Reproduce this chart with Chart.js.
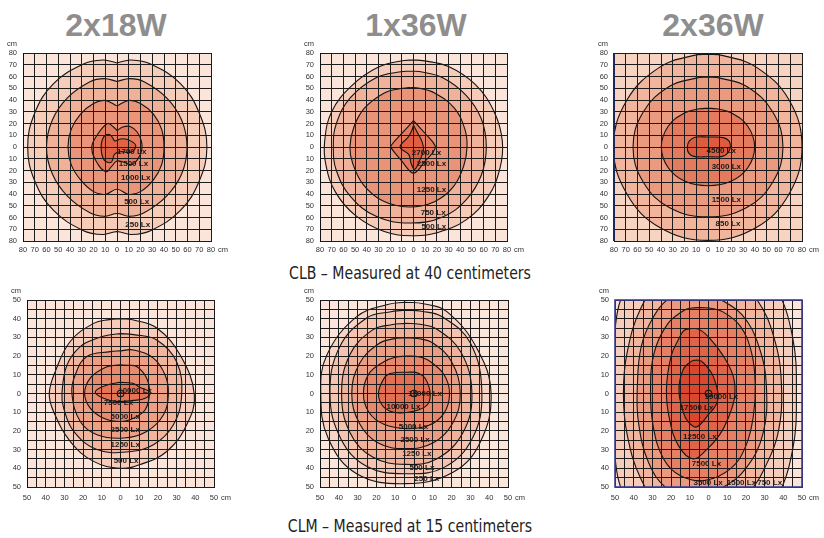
<!DOCTYPE html>
<html>
<head>
<meta charset="utf-8">
<script src="https://cdn.jsdelivr.net/npm/chart.js@4.4.1/dist/chart.umd.min.js"></script>
<style>
  body { margin:0; width:824px; height:538px; background:#fff; position:relative; overflow:hidden; }
  .title { position:absolute; width:200px; text-align:center; font:bold 32px "Liberation Sans", Arial, sans-serif; line-height:32px; color:#8e8e8e; }
  .caption { position:absolute; left:0; width:820px; text-align:center; font:17px "Liberation Sans Narrow", "DejaVu Sans Condensed", sans-serif; line-height:18px; color:#222; transform:scaleX(0.92); transform-origin:410px 0; }
</style>
</head>
<body>
<script>
// tick values (cm)
const clbTicks = [-80, -70, -60, -50, -40, -30, -20, -10, 0, 10, 20, 30, 40, 50, 60, 70, 80];
const clmTicks = [-50, -45, -40, -35, -30, -25, -20, -15, -10, -5, 0, 5, 10, 15, 20, 25, 30, 35, 40, 45, 50];

const titles = ['2x18W', '1x36W', '2x36W'];
const captions = ['CLB – Measured at 40 centimeters', 'CLM – Measured at 15 centimeters'];

// ---- CLB 2x18W isolux lines [x, y] in cm
const clb2x18_1700 = [[-2,5],[5,7],[12,5],[16,1],[12,-4.5],[3,-4],[-2,-6],[-5,-13],[-11,-11],[-13.5,0],[-11,9],[-6,10.5],[-2,5]];
const clb2x18_1500 = [[0,14],[5,17],[11,17.5],[17,13],[21,4],[20,-6],[13,-15],[6,-13],[0,-12],[-5,-17],[-9,-21],[-16,-15],[-21.5,-1],[-17,10],[-8,20],[-3,17],[0,14]];
const clb2x18_1000 = [[0,35],[10,39.6],[20,37],[31,28],[38,15],[40,0],[38,-15],[31,-28],[20,-38],[10,-40.4],[0,-35.9],[-10,-40.4],[-20,-38],[-31,-28],[-39,-15],[-41.7,0],[-39,15],[-31,28],[-20,37],[-10,39.6],[0,35]];
const clb2x18_500 = [[0,55.8],[11,58.2],[23,55.5],[42,42],[55,23],[59.6,0],[55,-23],[42,-42],[23,-56],[11,-59],[0,-56.6],[-11,-59],[-23,-56],[-42,-42],[-55,-23],[-60,0],[-55,23],[-42,42],[-23,55.5],[-11,58.2],[0,55.8]];
const clb2x18_250 = [[0,71.5],[12,74],[29,70.5],[54,54],[70,29],[76.5,0],[70,-29],[54,-54],[29,-71],[12,-74.5],[0,-72],[-12,-74.5],[-29,-71],[-54,-54],[-70,-29],[-76,0],[-70,29],[-54,54],[-29,70.5],[-12,74],[0,71.5]];
const clb2x18Levels = ['1700 Lx', '1500 Lx', '1000 Lx', '500 Lx', '250 Lx'];
const clb2x18LabelAt = [[12.5,-4],[14,-14],[16,-26],[16.7,-46.5],[17.6,-65.8]];

// ---- CLB 1x36W
const clb1x36_2700 = [[0,18.5],[4,11],[7.5,4],[8.5,-3],[5,-12],[1,-19],[-2,-14],[-4,-6.5],[-11.5,0],[-4.5,8.5],[-1.5,14],[0,18.5]];
const clb1x36_2500 = [[0,22.5],[10,11.5],[18.5,1],[17,-4],[10,-12],[2,-21.5],[-2,-21.5],[-10,-12],[-19,-1],[-19,1.5],[-10,11.5],[0,22.5]];
const clb1x36_1250 = [[-4,50.5],[4,50.2],[18,46],[35,33],[44,15],[45.8,0],[43,-16],[34,-34],[18,-46.5],[-4,-51],[-26,-46],[-43,-32],[-52,-14],[-54.4,0],[-51,17],[-42,33],[-25,46],[-12,49.6],[-4,50.5]];
const clb1x36_750 = [[-3,64.5],[5,64.2],[25,59],[45,44],[58,24],[62.3,0],[58,-24],[45,-45],[25,-59.5],[-3,-64.7],[-32,-59],[-54,-42],[-66,-20],[-68.6,0],[-66,20],[-54,42],[-32,59],[-11,64],[-3,64.5]];
const clb1x36_500 = [[0,74],[8,73.5],[30,68.5],[53,53],[69,30],[76,5],[74,-18],[64,-42],[45,-62],[20,-73],[0,-75.5],[-25,-72],[-50,-58],[-67,-38],[-75,-15],[-76,5],[-70,30],[-53,52],[-30,68],[-8,73.6],[0,74]];
const clb1x36Levels = ['2700 Lx', '2500 Lx', '1250 Lx', '750 Lx', '500 Lx'];
const clb1x36LabelAt = [[11.1,-5.1],[15.4,-14.5],[15.4,-36.3],[16.8,-56.2],[17.4,-67.5]];

// ---- CLB 2x36W
const clb2x36_4500 = [[0,8.5],[13,8],[18,5],[19,0],[17,-5],[12,-8],[0,-8.3],[-12,-8],[-16.5,-5],[-17.6,0],[-16,5],[-11,8.3],[0,8.5]];
const clb2x36_3000 = [[0,33],[7,32.5],[20,29],[34,17.5],[39.7,0],[34,-17.5],[20,-29],[0,-33],[-20,-29],[-34,-17.5],[-39.7,0],[-34,17.5],[-20,29],[-7,32.5],[0,33]];
const clb2x36_1500 = [[0,59.5],[10,58.6],[33,51.5],[55,30],[63.8,0],[55,-30],[33,-51.5],[0,-59.5],[-33,-51.5],[-55,-30],[-63.8,0],[-55,30],[-33,51.5],[-10,58.6],[0,59.5]];
const clb2x36_850 = [[0,79],[12,78],[41,68],[69,40],[80,0],[69,-40],[41,-68.5],[0,-79.5],[-41,-68.5],[-69,-40],[-80.5,0],[-69,40],[-41,68],[-12,78],[0,79]];
const clb2x36Levels = ['4500 Lx', '3000 Lx', '1500 Lx', '850 Lx'];
const clb2x36LabelAt = [[11.3,-3.1],[15.6,-16.8],[15.6,-45.3],[17,-65.2]];

// ---- CLM 2x18W
const clm2x18_peak = [[0,0]];
const clm2x18_7500 = [[-0.2,6],[6.5,5.5],[10,3.5],[15.9,0.5],[13.2,-2.5],[6.9,-3.7],[-1.9,-4.3],[-9.1,-2.6],[-13.5,1],[-6.4,4.8],[-0.2,6]];
const clm2x18_5000 = [[0,15.3],[4,15.1],[8.7,14.4],[14,8.2],[15.5,0.2],[13.2,-8.7],[6.9,-13.2],[0,-15],[-9,-13.2],[-16.2,-7.8],[-19.2,0],[-16.2,8.2],[-9,13.5],[-4,15],[0,15.3]];
const clm2x18_2500 = [[0,22.8],[6.9,23.3],[17.6,18.9],[23.8,10],[25.6,0.2],[23,-11.4],[14,-20.3],[1.6,-23.8],[-12.6,-22],[-21.5,-15],[-26,0],[-24.2,10],[-18,19.8],[-5.5,22.4],[0,22.8]];
const clm2x18_1250 = [[0,32],[7,31.5],[19.4,28.6],[30,17],[32.7,-0.7],[28.3,-16.7],[17.6,-27.4],[3.4,-31.3],[-12.6,-30],[-25,-20.3],[-30.4,-7.8],[-31.3,0],[-28.6,15.3],[-21.5,25.1],[-12.6,29.5],[-6,31.3],[0,32]];
const clm2x18_500 = [[0,40],[7,39.3],[19.4,35],[31.9,20.6],[39.5,-0.7],[35.4,-16.7],[24.7,-31],[10.5,-38],[0,-40],[-14.4,-36.3],[-26.9,-25.6],[-35.8,-9.6],[-38.1,0],[-34.9,11.7],[-26.9,27.8],[-14.4,37.5],[-6,39.5],[0,40]];
const clm2x18Levels = ['10000 Lx', '7500 Lx', '5000 Lx', '2500 Lx', '1250 Lx', '500 Lx'];
const clm2x18LabelAt = [[7.8,1.4],[-1.1,-4.8],[2.5,-12.3],[2.5,-19.4],[2.5,-27.4],[3,-35.8]];

// ---- CLM 1x36W
const clm1x36_peak = [[0,0]];
const clm1x36_10000 = [[-2,11.5],[2,11],[6,8],[8.6,0],[6.9,-6.2],[-0.3,-9.5],[-9.1,-10.3],[-16.2,-7.1],[-18.9,0],[-16,8],[-12.7,10.7],[-2,11.5]];
const clm1x36_5000 = [[-4,20],[2,19.7],[8,17.5],[16,10],[18.9,0],[16,-10.5],[8,-17],[-4,-18.8],[-16,-16.5],[-24,-10],[-26.9,0],[-24,10.5],[-16,17],[-10,19.4],[-4,20]];
const clm1x36_2500 = [[-4.5,29.8],[2,29.4],[10,27],[20,17],[24.6,0],[20.5,-16],[10,-26.5],[-4.5,-29.5],[-19,-26.5],[-29,-16],[-33.1,0],[-29,16],[-19,26.5],[-11,29.2],[-4.5,29.8]];
const clm1x36_1250 = [[-4.5,37.5],[3,37],[12,34.5],[25,22],[30.8,0],[26,-21],[12,-35],[-4.5,-37.9],[-22,-34],[-34,-21],[-38.5,0],[-34,21],[-22,34],[-12,36.8],[-4.5,37.5]];
const clm1x36_500 = [[-4.5,44.6],[4,44],[15,41],[30,27],[36.1,0],[31,-24],[16,-39.5],[-4.5,-42.9],[-25,-39],[-39,-24],[-44.7,0],[-39.5,25],[-25,40.5],[-13,43.6],[-4.5,44.6]];
const clm1x36_250 = [[-4.7,48.8],[5,48],[17.5,43.8],[33.5,24.1],[41,0],[35.3,-25.9],[21,-42],[-4.7,-48.2],[-30.5,-42.9],[-45.6,-24.1],[-49.6,0],[-46.4,20.5],[-30.5,41.1],[-14,47.6],[-4.7,48.8]];
const clm1x36Levels = ['15000 Lx', '10000 Lx', '5000 Lx', '2500 Lx', '1250 Lx', '500 Lx', '250 Lx'];
const clm1x36LabelAt = [[5.9,0],[-5.6,-7.1],[-0.3,-17.9],[0.6,-24.6],[1.5,-32.1],[4.2,-39.6],[6.8,-45.5]];

// ---- CLM 2x36W
const clm2x36_peak = [[0,0]];
const clm2x36_17500 = [[-6.4,17.9],[-4,17.4],[-1,14.5],[2.5,9.3],[5.2,-1.4],[3.5,-7],[0.7,-10.4],[-6.4,-17.9],[-11,-15],[-13.5,-10],[-15.8,2],[-13.5,12.9],[-9,17.3],[-6.4,17.9]];
const clm2x36_12500 = [[-9,34.8],[-5,34.3],[0.7,29.5],[8,20],[13.2,9.3],[14,-1.4],[11,-12],[6,-22],[-1,-30],[-8.2,-35],[-16,-28],[-20.8,-14],[-22.5,2],[-20,20],[-16,29],[-13,33.8],[-9,34.8]];
const clm2x36_7500 = [[-4,46],[2,45.5],[8,43.5],[17,36],[23,22],[25,5],[24,-12],[20,-28],[12,-40],[-2,-46.5],[-15,-44],[-24,-35],[-29.5,-18],[-31,2],[-29,22],[-22,37],[-13,44.5],[-9,45.7],[-4,46]];
const clm2x36_3500 = [[-8,57],[5,51],[18,42],[27,25],[31,3],[29,-22],[20,-40],[8,-50],[-8,-56],[-22,-51],[-32,-37],[-37.5,-15],[-38,5],[-36,25],[-30,40],[-21,51],[-8,57]];
const clm2x36_1500 = [[-6,68],[12,63],[26,50],[35,30],[39,5],[37,-22],[29,-42],[24,-50],[12,-62],[-6,-68],[-24,-62],[-36,-46],[-43.5,-22],[-45.5,0],[-43.5,22],[-36,46],[-24,62],[-6,68]];
const clm2x36_750 = [[-4,80],[22,74],[36,57],[45,30],[47,0],[45,-30],[36,-57],[22,-74],[-4,-80],[-30,-74],[-45,-55],[-50.5,-30],[-52,0],[-50.5,30],[-45,55],[-30,74],[-4,80]];
const clm2x36Levels = ['19000 Lx', '17500 Lx', '12500 Lx', '7500 Lx', '3500 Lx', '1500 Lx', '750 Lx'];
const clm2x36LabelAt = [[6.9,-1.8],[-6.4,-7.7],[-4.6,-22.9],[-1.1,-37.5],[-0.2,-47.9],[17.6,-47.9],[32.7,-47.9]];

// ---- fills, inner to outer, then background
const fillsA = ['#df6446', '#e57c60', '#ea947a', '#f0b199', '#f6cdb9'];
const fillsB = ['#df5f40', '#e47a5e', '#e99479', '#f0b29a', '#f6cbb8'];
const fillsC = ['#de5c3d', '#e47a5e', '#ea9a7f', '#f0b59c'];
const fillsD = ['#e37456', '#e78a6e', '#ec9f85', '#f1b59e', '#f6cbb9'];
const fillsE = ['#e26f52', '#e7886c', '#eb9d83', '#efb19a', '#f4c4b0', '#f7d4c5'];
const fillsF = ['#d9472f', '#e0644a', '#e67f64', '#eb9a80', '#f1b59d', '#f6cdbb'];

const AXW = 26, TOPPAD = 16, AXH = 18, RPAD = 30;

titles.forEach((t, i) => {
  const d = document.createElement('div');
  d.className = 'title';
  d.textContent = t;
  d.style.left = ([116, 416, 713][i] - 100) + 'px';
  d.style.top = '9px';
  document.body.appendChild(d);
});
captions.forEach((t, i) => {
  const d = document.createElement('div');
  d.className = 'caption';
  d.textContent = t;
  d.style.top = [264, 517][i] + 'px';
  document.body.appendChild(d);
});

function axis(ticks, lim, pad, fit) {
  return {
    type: 'linear', min: -lim, max: lim,
    afterBuildTicks: s => { s.ticks = ticks.map(v => ({ value: v })); },
    afterFit: fit,
    ticks: {
      autoSkip: false, maxRotation: 0, padding: pad, color: '#333',
      font: { family: 'Liberation Sans', size: 7.5 },
      callback: v => (v % 10 === 0 ? String(Math.abs(v)) : '')
    },
    grid: { color: '#1c1c1c', lineWidth: 1, drawTicks: false, z: 1 },
    border: { color: '#111', width: 1, z: 1 }
  };
}

function isoPanel(p) {
  const cv = document.createElement('canvas');
  cv.width = AXW + p.w + RPAD;
  cv.height = TOPPAD + p.h + AXH;
  cv.style.position = 'absolute';
  cv.style.left = (p.l - AXW) + 'px';
  cv.style.top = (p.t - TOPPAD) + 'px';
  document.body.appendChild(cv);

  const datasets = [];
  if (p.peak) {
    datasets.push({
      data: p.peak.map(([x, y]) => ({ x, y })), showLine: false,
      pointRadius: 3.3, pointBorderWidth: 1.1, pointBorderColor: '#111',
      pointBackgroundColor: 'rgba(0,0,0,0)'
    });
  }
  p.lines.forEach((c, i) => {
    datasets.push({
      data: c.map(([x, y]) => ({ x, y })), fill: 'shape',
      backgroundColor: p.fills[i], borderColor: '#141414', borderWidth: 1.1,
      pointRadius: 0, tension: 0.4
    });
  });

  const decor = {
    id: 'isoDecor',
    beforeDatasetsDraw(chart) {
      const a = chart.chartArea, ctx = chart.ctx;
      ctx.save();
      ctx.fillStyle = p.bg;
      ctx.fillRect(a.left, a.top, a.right - a.left, a.bottom - a.top);
      ctx.restore();
    },
    afterDraw(chart) {
      const a = chart.chartArea, ctx = chart.ctx, sx = chart.scales.x, sy = chart.scales.y;
      ctx.save();
      if (p.frame === 'blue') {
        ctx.strokeStyle = '#3b3f98';
        ctx.lineWidth = 1.6;
        ctx.strokeRect(a.left, a.top, a.right - a.left, a.bottom - a.top);
      } else if (p.frame === 'navyLeft') {
        ctx.strokeStyle = '#1f2a55';
        ctx.lineWidth = 2;
        ctx.beginPath(); ctx.moveTo(a.left, a.top); ctx.lineTo(a.left, a.bottom); ctx.stroke();
      }
      ctx.fillStyle = '#1a1a1a';
      ctx.font = 'bold 8px "Liberation Sans"';
      ctx.textAlign = 'center';
      ctx.textBaseline = 'middle';
      p.levels.forEach((t, i) => {
        const [x, y] = p.labelAt[i];
        ctx.fillText(t, sx.getPixelForValue(x), sy.getPixelForValue(y));
      });
      ctx.fillStyle = '#333';
      ctx.font = '7.5px "Liberation Sans"';
      ctx.fillText('cm', a.left - 11, a.top - 9);
      ctx.textAlign = 'left';
      ctx.fillText('cm', a.right + 7, a.bottom + p.cmDy);
      ctx.restore();
    }
  };

  new Chart(cv, {
    type: 'line',
    data: { datasets },
    options: {
      responsive: false, animation: false,
      layout: { padding: { left: 0, top: TOPPAD, right: RPAD, bottom: 0 } },
      elements: { line: { capBezierPoints: false } },
      plugins: { legend: { display: false }, tooltip: { enabled: false } },
      scales: {
        x: axis(p.ticks, p.lim, p.xpad, s => { s.height = AXH; }),
        y: axis(p.ticks, p.lim, 6, s => { s.width = AXW; })
      }
    },
    plugins: [decor]
  });
}

isoPanel({ l: 23, t: 53, w: 188, h: 188, ticks: clbTicks, lim: 80, xpad: 4, cmDy: 8.5,
  lines: [clb2x18_1700, clb2x18_1500, clb2x18_1000, clb2x18_500, clb2x18_250],
  fills: fillsA, bg: '#fbe5da', levels: clb2x18Levels, labelAt: clb2x18LabelAt });
isoPanel({ l: 320, t: 53, w: 187, h: 188, ticks: clbTicks, lim: 80, xpad: 4, cmDy: 8.5,
  lines: [clb1x36_2700, clb1x36_2500, clb1x36_1250, clb1x36_750, clb1x36_500],
  fills: fillsB, bg: '#fbe4d9', levels: clb1x36Levels, labelAt: clb1x36LabelAt });
isoPanel({ l: 614, t: 53, w: 188, h: 188, ticks: clbTicks, lim: 80, xpad: 4, cmDy: 8.5,
  lines: [clb2x36_4500, clb2x36_3000, clb2x36_1500, clb2x36_850],
  fills: fillsC, bg: '#f7d3c2', levels: clb2x36Levels, labelAt: clb2x36LabelAt, frame: 'navyLeft' });
isoPanel({ l: 27, t: 300, w: 187, h: 187, ticks: clmTicks, lim: 50, xpad: 6, cmDy: 10.5, peak: clm2x18_peak,
  lines: [clm2x18_7500, clm2x18_5000, clm2x18_2500, clm2x18_1250, clm2x18_500],
  fills: fillsD, bg: '#fbe4d9', levels: clm2x18Levels, labelAt: clm2x18LabelAt });
isoPanel({ l: 320, t: 300, w: 188, h: 187, ticks: clmTicks, lim: 50, xpad: 6, cmDy: 10.5, peak: clm1x36_peak,
  lines: [clm1x36_10000, clm1x36_5000, clm1x36_2500, clm1x36_1250, clm1x36_500, clm1x36_250],
  fills: fillsE, bg: '#fbe6dc', levels: clm1x36Levels, labelAt: clm1x36LabelAt });
isoPanel({ l: 615, t: 300, w: 187, h: 187, ticks: clmTicks, lim: 50, xpad: 6, cmDy: 10.5, peak: clm2x36_peak,
  lines: [clm2x36_17500, clm2x36_12500, clm2x36_7500, clm2x36_3500, clm2x36_1500, clm2x36_750],
  fills: fillsF, bg: '#fbe4da', levels: clm2x36Levels, labelAt: clm2x36LabelAt, frame: 'blue' });
</script>
</body>
</html>
